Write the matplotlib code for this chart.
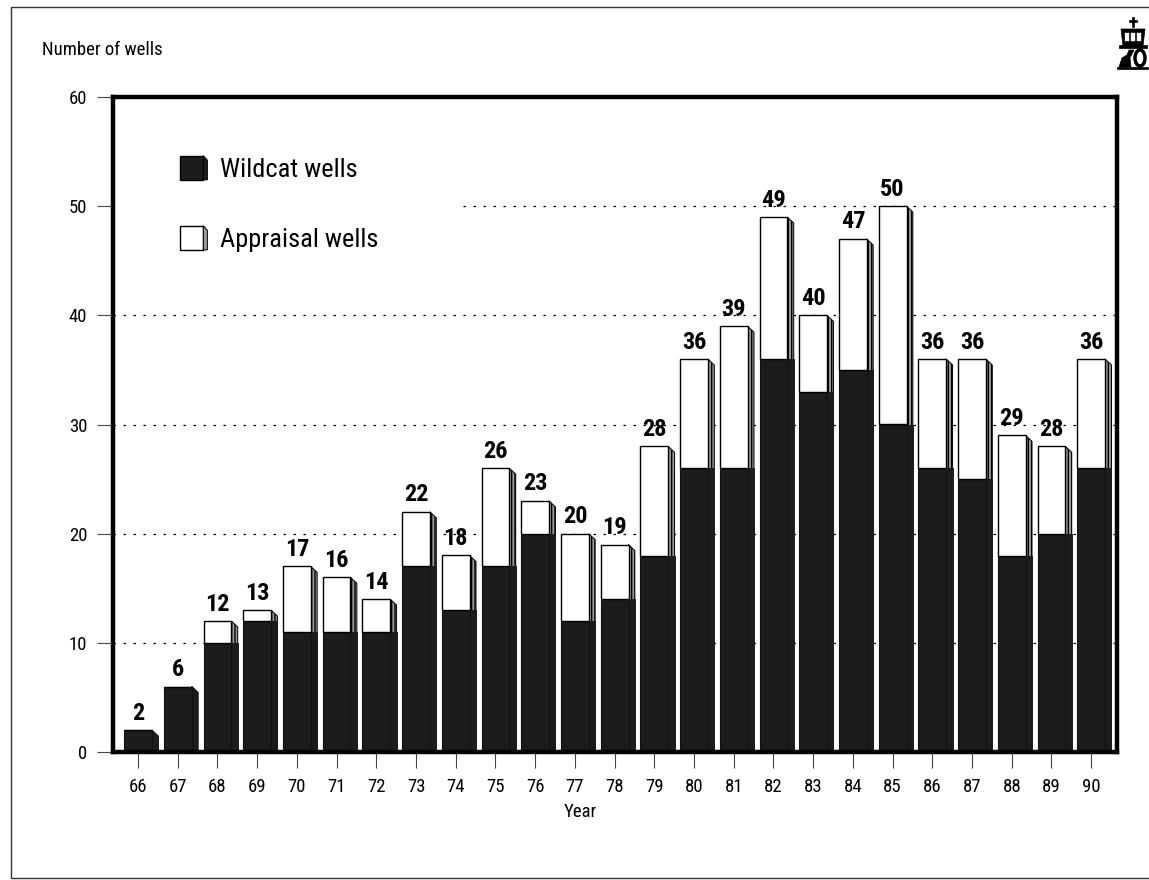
import matplotlib
matplotlib.use("Agg")
import matplotlib.pyplot as plt
from matplotlib import font_manager
from matplotlib.patches import Rectangle, Polygon, Ellipse
import numpy as np

# Exploration wells drilled per year
years = ["66", "67", "68", "69", "70", "71", "72", "73", "74", "75", "76", "77", "78",
         "79", "80", "81", "82", "83", "84", "85", "86", "87", "88", "89", "90"]
wildcat = [2, 6, 10, 12, 11, 11, 11, 17, 13, 17, 20, 12, 14,
           18, 26, 26, 36, 33, 35, 30, 26, 25, 18, 20, 26]
appraisal = [0, 0, 2, 1, 6, 5, 3, 5, 5, 9, 3, 8, 5,
             10, 10, 13, 13, 7, 12, 20, 10, 11, 11, 8, 10]
y_ticks = [0, 10, 20, 30, 40, 50, 60]

available = {f.name for f in font_manager.fontManager.ttflist}
NARROW = next((n for n in ["Liberation Sans Narrow", "Roboto Condensed", "Liberation Sans"]
               if n in available), "DejaVu Sans")

W, H = 1149, 880
fig = plt.figure(figsize=(W / 100, H / 100), dpi=100)
fig.patch.set_facecolor("white")


def fx(px):
    return px / W


def fy(py):
    return 1 - py / H


ax = fig.add_axes([fx(113), fy(752), (1117 - 113) / W, (752 - 97) / H])
x = np.arange(len(years))
ax.set_xlim(-0.63, 24.65)
ax.set_ylim(0, 60)

DARK = "#1c1c1c"
SIDE = "#9a9a9a"
bw = 0.70      # front face width
dx = 0.16      # side depth (x units)
dy = 0.55      # slant of the side top (y units)

# dotted horizontal guides
for yv in y_ticks[1:-1]:
    ax.axhline(yv, color="black", lw=0.9, ls=(0, (2, 6)), zorder=1)

# white panel behind the legend
ax.add_patch(Rectangle((0, 0.735), 0.345, 0.215, transform=ax.transAxes,
                       facecolor="white", edgecolor="none", zorder=2))

totals = [w + a for w, a in zip(wildcat, appraisal)]

# side faces
for xi, w, t in zip(x, wildcat, totals):
    xr = xi + bw / 2
    ax.add_patch(Polygon([(xr, 0), (xr + dx, 0), (xr + dx, t - dy), (xr, t)],
                         closed=True, facecolor=SIDE, edgecolor="black",
                         lw=0.7, hatch="|||||", zorder=2.5))
    ax.add_patch(Polygon([(xr, 0), (xr + dx, 0), (xr + dx, min(w, t - dy)), (xr, w)],
                         closed=True, facecolor=DARK, edgecolor=DARK,
                         lw=0.7, zorder=2.6))

# front faces
ax.bar(x, wildcat, bw, color=DARK, edgecolor="#111111", lw=0.8, zorder=3)
ax.bar(x, appraisal, bw, bottom=wildcat, color="white", edgecolor="black",
       lw=1.0, zorder=3)

# totals above each column
for xi, t in zip(x, totals):
    ax.text(xi, t + 0.5, str(t), ha="center", va="bottom", fontsize=17.5,
            fontweight="bold", family=NARROW, zorder=5)

for s in ax.spines.values():
    s.set_linewidth(3.2)
    s.set_zorder(6)

ax.set_yticks(y_ticks)
ax.set_yticklabels([str(v) for v in y_ticks])
ax.set_xticks(x)
ax.set_xticklabels(years)
ax.tick_params(axis="y", direction="out", length=11.5, width=0.8, color="#444444",
               pad=7, labelsize=13.5)
ax.tick_params(axis="x", direction="out", length=11.5, width=0.8, color="#444444",
               pad=7, labelsize=13.5)
for lab in ax.get_xticklabels() + ax.get_yticklabels():
    lab.set_family(NARROW)

# legend
def legend_box(y0, face, side_face):
    x0, w0, h0 = 0.0665, 0.0235, 0.037
    ax.add_patch(Rectangle((x0, y0), w0, h0, transform=ax.transAxes,
                           facecolor=face, edgecolor="black", lw=1.0, zorder=4))
    ax.add_patch(Polygon([(x0 + w0, y0), (x0 + w0 + 0.004, y0),
                          (x0 + w0 + 0.004, y0 + h0 - 0.007), (x0 + w0, y0 + h0)],
                         closed=True, transform=ax.transAxes, facecolor=side_face,
                         edgecolor="black", lw=0.7, zorder=4))


legend_box(0.8735, DARK, DARK)
legend_box(0.7665, "white", SIDE)
ax.text(0.1066, 0.889, "Wildcat wells", transform=ax.transAxes, ha="left",
        va="center", fontsize=19, family=NARROW, zorder=5)
ax.text(0.1066, 0.782, "Appraisal wells", transform=ax.transAxes, ha="left",
        va="center", fontsize=19, family=NARROW, zorder=5)

# axis titles
fig.text(fx(42), fy(50), "Number of wells", ha="left", va="center",
         fontsize=13.5, family=NARROW)
fig.text(fx(580), fy(812), "Year", ha="center", va="center",
         fontsize=13.5, family=NARROW)

# page frame
fig.add_artist(Rectangle((fx(11), fy(878)), 1.2, fy(7) - fy(878),
                         transform=fig.transFigure, facecolor="none",
                         edgecolor="#333333", lw=1.0, clip_on=False))

# crown emblem, top right
def px_poly(pts, **kw):
    fig.add_artist(Polygon([(fx(a), fy(b)) for a, b in pts], closed=True,
                           transform=fig.transFigure, **kw))


k = dict(facecolor="black", edgecolor="black", lw=0.5)
px_poly([(1132, 17), (1134, 17), (1134, 27), (1132, 27)], **k)          # cross stem
px_poly([(1129, 20), (1137, 20), (1137, 22), (1129, 22)], **k)          # cross bar
px_poly([(1121, 29), (1145, 29), (1143, 46), (1123, 46)], **k)          # crown body
px_poly([(1119, 45), (1147, 45), (1147, 48), (1119, 48)], **k)          # crown rim
for a in (1125, 1131, 1137):
    px_poly([(a, 33), (a + 3.5, 33), (a + 3.5, 41), (a, 41)],
            facecolor="white", edgecolor="white", lw=0.3)
px_poly([(1119, 67), (1122, 58), (1127, 55), (1129, 50), (1134, 50), (1130, 58),
         (1131, 67)], **k)                                               # lion figure
fig.add_artist(Ellipse((fx(1140), fy(58)), 10 / W, 16 / H, transform=fig.transFigure,
                       facecolor="none", edgecolor="black", lw=2.5))
px_poly([(1117, 67), (1148, 67), (1148, 69), (1117, 69)], **k)          # ground line

fig.savefig("out.png", dpi=100, facecolor="white")
